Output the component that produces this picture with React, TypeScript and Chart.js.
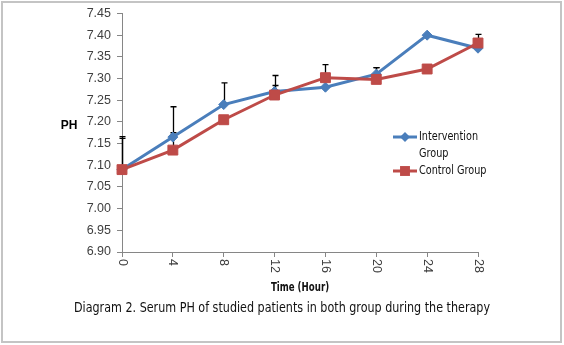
import React, { useEffect, useRef } from 'react';
import { Chart, registerables } from 'chart.js';

Chart.register(...registerables);

// ---- data ----
const hours = ['0', '4', '8', '12', '16', '20', '24', '28'];
const interventionPH = [7.09, 7.165, 7.24, 7.27, 7.28, 7.31, 7.40, 7.37];
const controlPH = [7.09, 7.135, 7.205, 7.262, 7.302, 7.298, 7.322, 7.382];
const interventionErr = [0.072, 0.07, 0.05, 0.037, 0, 0.015, 0, 0];
const controlErr = [0.076, 0.04, 0, 0.022, 0.03, 0.027, 0, 0.02];
const seriesNames = ['Intervention Group', 'Control Group'];
const yMin = 6.9;
const yMax = 7.45;
const yStep = 0.05;
const xTitle = 'Time (Hour)';
const yTitle = 'PH';
const caption = 'Diagram 2. Serum PH of studied patients in both group during the therapy';

const BLUE = '#4a7ebb';
const RED = '#be4b48';
const AXIS = '#868686';
const TICK_FONT = "'Liberation Sans', Arial, sans-serif";
const NARROW = "'DejaVu Sans Condensed', 'DejaVu Sans', sans-serif";

function drawMarker(ctx: CanvasRenderingContext2D, style: string, x: number, y: number, r: number, color: string) {
  ctx.save();
  ctx.fillStyle = color;
  ctx.beginPath();
  if (style === 'rectRot') {
    ctx.moveTo(x, y - r);
    ctx.lineTo(x + r, y);
    ctx.lineTo(x, y + r);
    ctx.lineTo(x - r, y);
    ctx.closePath();
  } else {
    const s = r * Math.SQRT1_2;
    ctx.rect(x - s, y - s, 2 * s, 2 * s);
  }
  ctx.fill();
  ctx.restore();
}

// draw text horizontally condensed (Calibri-like proportions)
function narrowText(ctx: CanvasRenderingContext2D, text: string, x: number, y: number, sx: number, align: 'left' | 'center') {
  ctx.save();
  ctx.translate(x, y);
  ctx.scale(sx, 1);
  ctx.textAlign = align;
  ctx.textBaseline = 'middle';
  ctx.fillText(text, 0, 0);
  ctx.restore();
}

const decorPlugin = {
  id: 'decor',
  beforeDraw(chart: any) {
    const ctx = chart.ctx as CanvasRenderingContext2D;
    ctx.save();
    ctx.fillStyle = '#ffffff';
    ctx.fillRect(0, 0, chart.width, chart.height);
    ctx.strokeStyle = '#c4c4c4';
    ctx.lineWidth = 2;
    ctx.strokeRect(2, 2, chart.width - 5, chart.height - 5);
    ctx.restore();
  },
  beforeDatasetsDraw(chart: any) {
    // error bars (upper only)
    const ctx = chart.ctx as CanvasRenderingContext2D;
    const xs = chart.scales.x;
    const ys = chart.scales.y;
    ctx.save();
    ctx.strokeStyle = '#000000';
    ctx.lineWidth = 1.3;
    const series = [
      { v: interventionPH, e: interventionErr },
      { v: controlPH, e: controlErr },
    ];
    series.forEach(({ v, e }) => {
      v.forEach((val, i) => {
        if (!e[i]) return;
        const x = Math.round(xs.getPixelForValue(i)) + 0.5;
        const y0 = ys.getPixelForValue(val);
        const y1 = ys.getPixelForValue(val + e[i]);
        ctx.beginPath();
        ctx.moveTo(x, y0);
        ctx.lineTo(x, y1);
        ctx.moveTo(x - 3, y1);
        ctx.lineTo(x + 3, y1);
        ctx.stroke();
      });
    });
    ctx.restore();
  },
  afterDraw(chart: any) {
    const ctx = chart.ctx as CanvasRenderingContext2D;
    const xs = chart.scales.x;
    const area = chart.chartArea;
    ctx.save();
    // rotated x tick labels (reading top to bottom)
    ctx.fillStyle = '#404040';
    ctx.font = `12.5px ${TICK_FONT}`;
    ctx.textAlign = 'left';
    ctx.textBaseline = 'middle';
    hours.forEach((h, i) => {
      const x = xs.getPixelForValue(i);
      ctx.save();
      ctx.translate(x, area.bottom + 7);
      ctx.rotate(Math.PI / 2);
      ctx.fillText(h, 0, 0);
      ctx.restore();
    });
    // y title, horizontal
    ctx.fillStyle = '#000000';
    ctx.font = `bold 12px ${TICK_FONT}`;
    ctx.textAlign = 'center';
    ctx.fillText(yTitle, 69, 126);

    // x title
    ctx.fillStyle = '#111111';
    ctx.font = `bold 12px ${NARROW}`;
    narrowText(ctx, xTitle, (area.left + area.right) / 2, 288, 0.8, 'center');

    // caption
    ctx.font = `14px ${NARROW}`;
    const cw = ctx.measureText(caption).width;
    narrowText(ctx, caption, chart.width / 2, 308, 416 / cw, 'center');

    // legend
    const lx = 393;
    const items = [
      { name: seriesNames[0], color: BLUE, style: 'rectRot', r: 5 },
      { name: seriesNames[1], color: RED, style: 'rect', r: 7 },
    ];
    ctx.font = `12.5px ${NARROW}`;
    const sx = 0.86;
    let y = 137;
    items.forEach((it) => {
      ctx.strokeStyle = it.color;
      ctx.lineWidth = 3;
      ctx.beginPath();
      ctx.moveTo(lx, y);
      ctx.lineTo(lx + 24, y);
      ctx.stroke();
      drawMarker(ctx, it.style, lx + 12, y, it.r, it.color);
      // wrap
      const words = it.name.split(' ');
      const lines: string[] = [];
      let cur = '';
      words.forEach((w) => {
        const t = cur ? cur + ' ' + w : w;
        if (ctx.measureText(t).width * sx > 80 && cur) {
          lines.push(cur);
          cur = w;
        } else cur = t;
      });
      lines.push(cur);
      ctx.fillStyle = '#111111';
      lines.forEach((ln) => {
        narrowText(ctx, ln, lx + 26, y, sx, 'left');
        y += 17;
      });
    });
    ctx.restore();
  },
};

export default function App() {
  const ref = useRef<HTMLCanvasElement | null>(null);
  useEffect(() => {
    if (!ref.current) return;
    const chart = new Chart(ref.current, {
      type: 'line',
      data: {
        labels: hours,
        datasets: [
          {
            label: seriesNames[0],
            data: interventionPH,
            borderColor: BLUE,
            backgroundColor: BLUE,
            borderWidth: 3,
            pointStyle: 'rectRot',
            pointRadius: 5,
            pointBorderWidth: 1,
            pointBorderColor: BLUE,
            pointBackgroundColor: BLUE,
            tension: 0,
            order: 2,
          },
          {
            label: seriesNames[1],
            data: controlPH,
            borderColor: RED,
            backgroundColor: RED,
            borderWidth: 3,
            pointStyle: 'rect',
            pointRadius: 7,
            pointBorderWidth: 1,
            pointBorderColor: RED,
            pointBackgroundColor: RED,
            tension: 0,
            order: 1,
          },
        ],
      },
      options: {
        responsive: false,
        animation: false,
        events: [],
        layout: { padding: { top: 10, right: 86, bottom: 50, left: 0 } },
        plugins: {
          legend: { display: false },
          tooltip: { enabled: false },
          title: { display: false },
        },
        scales: {
          x: {
            type: 'category',
            offset: false,
            afterFit: (s: any) => {
              s.height = 43;
            },
            grid: {
              display: true,
              drawOnChartArea: false,
              drawTicks: true,
              tickLength: 5,
              color: AXIS,
            },
            border: { display: true, color: AXIS, width: 1 },
            ticks: { display: false },
            title: { display: false },
          },
          y: {
            min: yMin,
            max: yMax,
            afterFit: (s: any) => {
              s.width = 122;
            },
            grid: {
              display: true,
              drawOnChartArea: false,
              drawTicks: true,
              tickLength: 5,
              color: AXIS,
            },
            border: { display: true, color: AXIS, width: 1 },
            ticks: {
              stepSize: yStep,
              padding: 6,
              color: '#404040',
              font: { family: TICK_FONT, size: 12.5 },
              callback: (v: any) => Number(v).toFixed(2),
            },
            title: { display: false },
          },
        },
      },
      plugins: [decorPlugin],
    });
    return () => chart.destroy();
  }, []);
  return (
    <div style={{ position: 'absolute', left: 0, top: 0, width: 564, height: 345, background: '#fff' }}>
      <canvas ref={ref} width={564} height={345} style={{ display: 'block', width: 564, height: 345 }} />
    </div>
  );
}
